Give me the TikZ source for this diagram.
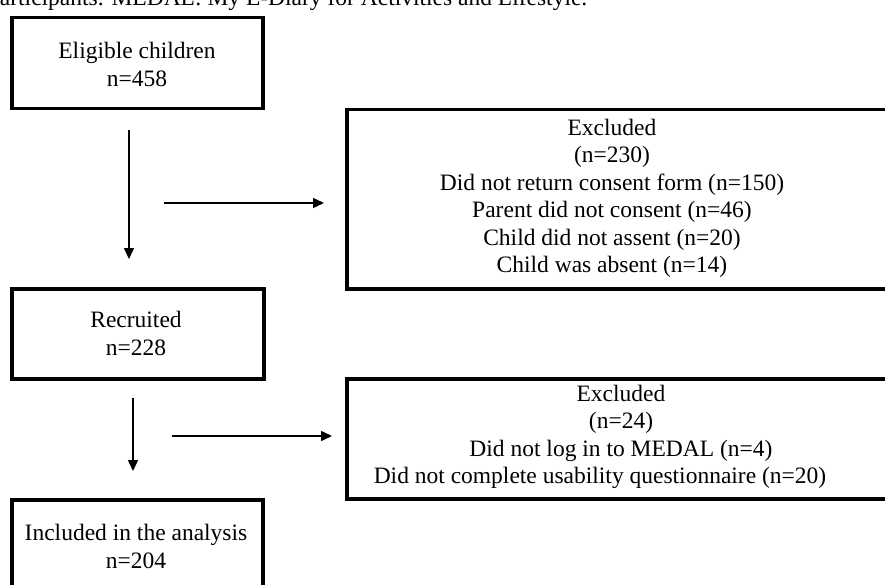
\documentclass[tikz,border=0pt]{standalone}
\usepackage{fontspec}
\setmainfont{Liberation Serif}
\usetikzlibrary{arrows.meta}
\begin{document}
\begin{tikzpicture}[x=1pt,y=-1pt,
  box/.style={draw=black,line width=3.5pt,rectangle,inner sep=0pt,anchor=north west},
  txt/.style={align=center,font=\fontsize{23.5}{27.5}\selectfont,inner sep=0pt},
  arr/.style={line width=1.5pt,-{Triangle[length=11pt,width=10pt]}}]
\useasboundingbox (0,0) rectangle (885,585);
\fill[white] (0,0) rectangle (885,585);
% caption fragment at the top
\node[font=\fontsize{23.5}{27.5}\selectfont,anchor=base west,inner sep=0pt] (cap) at (-12,6) {participants. MEDAL: My E-Diary for Activities and Lifestyle.};
% boxes
\node[box,minimum width=251pt,minimum height=91pt] (b1) at (10,16) {};
\node[box,minimum width=550pt,minimum height=179pt] (b2) at (345,108) {};
\node[box,minimum width=252pt,minimum height=90pt] (b3) at (10,287) {};
\node[box,minimum width=550pt,minimum height=120pt] (b4) at (345,377) {};
\node[box,minimum width=251pt,minimum height=100pt] (b5) at (10,498) {};
% texts
\node[txt] (t1) at (137,64.5) {Eligible children\\n=458};
\node[txt] (t2) at (612,198.5) {Excluded\\(n=230)\\Did not return consent form (n=150)\\Parent did not consent (n=46)\\Child did not assent (n=20)\\Child was absent (n=14)};
\node[txt] (t3) at (136,333.5) {Recruited\\n=228};
\node[txt] (t4) at (621,437) {Excluded\\(n=24)\\Did not log in to MEDAL (n=4)\\\hspace*{-42pt}Did not complete usability questionnaire (n=20)};
\node[txt] (t5) at (136,546.5) {Included in the analysis\\n=204};
% arrow end points
\coordinate (a1s) at (129,130);
\coordinate (a1e) at (129,259);
\coordinate (h1s) at (164,203);
\coordinate (h1e) at (324,203);
\coordinate (a2s) at (133,398);
\coordinate (a2e) at (133,471);
\coordinate (h2s) at (172,436);
\coordinate (h2e) at (332,436);
\draw[arr] (a1s) -- (a1e);
\draw[arr] (h1s) -- (h1e);
\draw[arr] (a2s) -- (a2e);
\draw[arr] (h2s) -- (h2e);
\end{tikzpicture}
\end{document}
